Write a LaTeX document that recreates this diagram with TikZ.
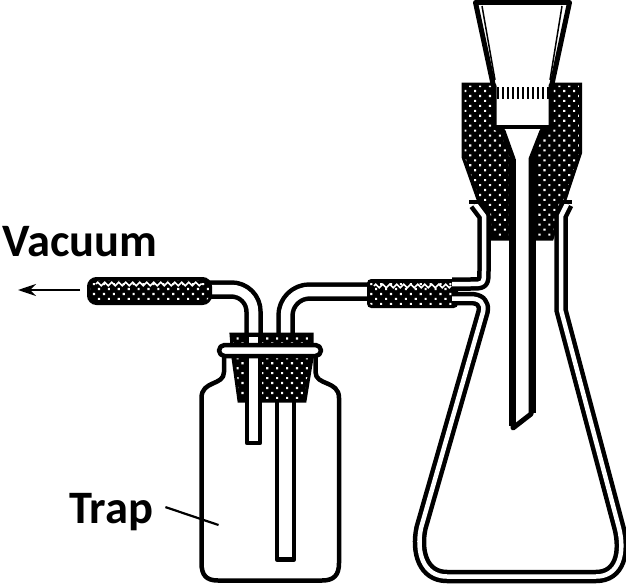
\documentclass[tikz,border=0pt]{standalone}
\usepackage{fontspec}
\setmainfont{Carlito}
\usetikzlibrary{arrows.meta,patterns.meta,decorations.pathmorphing}

\tikzset{
    wall/.style   = {line width=4.5pt, line join=round},
    glass/.style  = {line width=4.5pt, double=white, double distance=4.5pt, line join=round},
    tube/.style   = {line width=4.5pt, double=white, double distance=9.5pt, line join=round},
    rubber/.style = {draw, line width=3pt, preaction={fill=black},
                     pattern={Dots[distance=7pt, angle=45, radius=1.5pt]}, pattern color=white},
    ripple/.style = {white, line width=1.5pt, decorate,
                     decoration={zigzag, segment length=7pt, amplitude=1.8pt}},
    labeltext/.style = {font=\bfseries\fontsize{46.5}{50}\selectfont, inner sep=0pt},
    leader/.style = {line width=2.2pt},
    flow/.style   = {line width=2.5pt, -{Stealth[length=18pt, width=12pt, inset=6pt]}},
}

\begin{document}
\begin{tikzpicture} [x = 1pt, y = -1pt]
    \useasboundingbox (0, 0) rectangle (626, 586);

    % Glasrohre der Falle
    \draw[tube, rounded corners=22pt] (205, 289.5) -- (253.5, 289.5) -- (253.5, 340);
    \draw[tube, rounded corners=24pt] (285.5, 340) -- (285.5, 291.5) -- (372, 291.5);

    % langes Rohr in der Falle
    \draw[wall, fill=white] (277, 395) rectangle (294, 559.5);

    % Flasche der Falle
    \draw[wall] (224, 357) -- (224, 372) .. controls (224, 386) and (201.5, 380) .. (201.5, 398)
        -- (201.5, 563) .. controls (201.5, 575) and (206, 580.5) .. (218, 580.5)
        -- (322, 580.5) .. controls (334, 580.5) and (339, 575) .. (339, 563)
        -- (339, 398) .. controls (339, 380) and (315.5, 386) .. (315.5, 372) -- (315.5, 357);

    % Stopfen der Falle und kurzes Rohr
    \draw[rubber] (231, 334) -- (312, 334) -- (312, 358) -- (305, 401) -- (239, 401) -- (233, 358) -- cycle;
    \draw[wall, fill=white] (247, 335) rectangle (260, 443);
    \draw[wall, fill=white, rounded corners=5.5pt] (219, 345) rectangle (321, 356);

    % Schlaeuche
    \draw[rubber, rounded corners=8pt] (88.5, 278.5) rectangle (210.5, 303.5);
    \draw[ripple] (96, 284) -- (204, 284);
    \draw[rubber, rounded corners=3pt] (368.5, 280.5) rectangle (456.5, 306.5);
    \draw[ripple] (374, 286) -- (451, 286);

    % Stopfen der Saugflasche
    \draw[rubber] (463, 84) -- (580.5, 84) -- (580.5, 153) -- (552, 239) -- (492, 239) -- (463, 157) -- cycle;

    % Saugflasche
    \draw[glass] (452, 284) -- (470, 284) .. controls (484, 284) .. (484, 270) -- (484, 216) -- (475, 204);
    \draw[glass] (567, 204) -- (561, 216) -- (561, 310) -- (619, 528)
        .. controls (625, 552) and (620, 576.5) .. (596, 576.5) -- (447, 576.5)
        .. controls (423, 576.5) and (416, 552) .. (421, 528) -- (483, 312)
        .. controls (485, 303) and (480, 298.5) .. (470, 298.5) -- (452, 298.5);
    \draw[wall] (469, 202) -- (481, 202);
    \draw[wall] (562, 202) -- (572, 202);

    % Trichter
    \draw[line width=5pt, line join=round, fill=white]
        (475.5, 2.5) -- (569.5, 2.5) -- (552, 84) -- (551, 86) -- (551, 127) -- (542, 131)
        -- (531, 159) -- (531, 414) -- (513, 428) -- (513, 159) -- (503, 131) -- (494, 127)
        -- (494, 86) -- (493, 84) -- cycle;
    \draw[line width=7pt] (512, 159) -- (512, 426) (532, 159) -- (532, 413);
    \draw[line width=4pt] (494, 127) -- (551, 127);
    \draw[line width=1.5pt] (482, 6) -- (495, 80);
    \draw[line width=1.5pt] (562, 6) -- (550, 80);
    \foreach \x in {498, 503, ..., 548}
        \draw[line width=2pt] (\x, 87) -- (\x, 99);

    % Beschriftung
    \node[labeltext, anchor=base west] (vacuum) at (2, 256.5) {Vacuum};
    \coordinate (vac tail) at (80, 290);
    \coordinate (vac head) at (18, 290);
    \draw[flow] (vac tail) -- (vac head);

    \node[labeltext, anchor=base west] (trap) at (69, 523.5) {Trap};
    \coordinate (trap tip) at (218.5, 525);
    \draw[leader] ([xshift=12pt, yshift=5pt]trap.east) -- (trap tip);
\end{tikzpicture}
\end{document}
